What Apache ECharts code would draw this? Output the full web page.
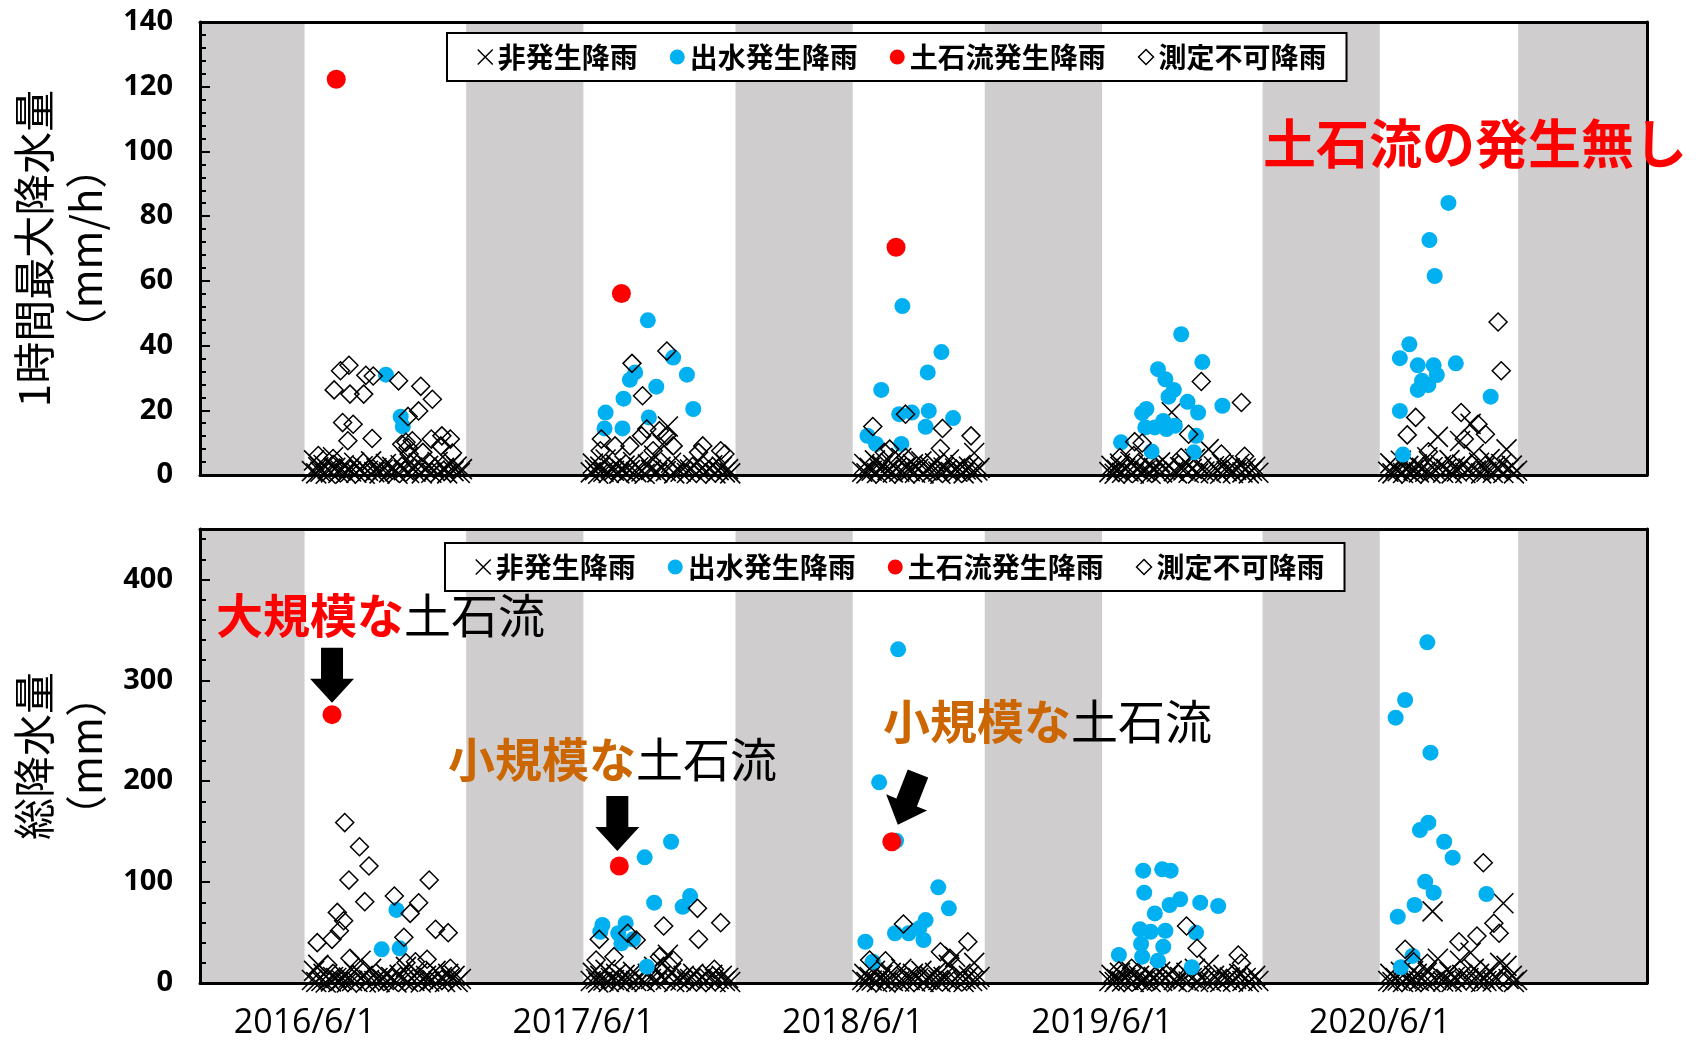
<!DOCTYPE html>
<html>
<head>
<meta charset="utf-8">
<script src="https://cdn.jsdelivr.net/npm/echarts@6/dist/echarts.min.js"></script>
<style>
  html, body { margin: 0; padding: 0; background: #fff; }
  #chart { width: 1696px; height: 1041px; }
</style>
</head>
<body>
<div id="chart"></div>
<script>
// ---- Observation seasons (each starts on June 1) ----
const seasonYears = [2016, 2017, 2018, 2019, 2020];
const seasonLengthDays = [153, 144, 125, 152, 131];   // June 1 -> end of observation
const leadDays = 99;        // off-season shown before the first season
const offSeasonDays = 111;  // compressed off-season between seasons
const trailDays = 122;      // off-season shown after the last season
const seasonLabels = ['2016/6/1', '2017/6/1', '2018/6/1', '2019/6/1', '2020/6/1'];

// ---- Legend / series names ----
const seriesNames = ['非発生降雨', '出水発生降雨', '土石流発生降雨', '測定不可降雨'];

// ---- 1時間最大降水量 (mm/h): [year, day since 6/1, value] ----
const hourlyNoEvent = [
  [2016,7,1.2],[2016,9,4.5],[2016,11,0.5],[2016,13,2.4],[2016,15,1.0],[2016,18,3.1],[2016,20,0.4],[2016,22,1.8],[2016,25,0.8],[2016,27,5.5],
  [2016,29,2.2],[2016,32,0.6],[2016,34,1.4],[2016,37,3.0],[2016,39,0.5],[2016,42,2.0],[2016,44,1.1],[2016,47,3.8],[2016,49,0.7],[2016,52,1.6],
  [2016,55,2.7],[2016,57,0.4],[2016,60,1.3],[2016,63,4.2],[2016,66,0.9],[2016,68,2.1],[2016,71,0.5],[2016,74,1.7],[2016,77,3.4],[2016,80,0.8],
  [2016,83,2.5],[2016,86,1.2],[2016,88,0.4],[2016,91,3.0],[2016,94,1.5],[2016,97,5.0],[2016,99,0.6],[2016,102,2.3],[2016,105,1.0],[2016,108,3.6],
  [2016,111,0.5],[2016,114,1.9],[2016,117,2.8],[2016,120,0.7],[2016,123,1.4],[2016,126,4.0],[2016,129,0.9],[2016,132,2.2],[2016,135,0.5],[2016,138,3.3],
  [2016,141,1.2],[2016,144,2.6],[2016,147,0.6],[2016,149,1.8],
  [2017,7,0.8],[2017,9,3.5],[2017,11,1.5],[2017,14,0.4],[2017,16,2.6],[2017,19,1.0],[2017,21,4.8],[2017,24,0.6],[2017,26,2.0],[2017,29,1.3],
  [2017,31,3.2],[2017,34,0.5],[2017,36,1.8],[2017,39,2.9],[2017,41,0.7],[2017,44,1.5],[2017,47,4.0],[2017,50,0.9],[2017,52,2.4],[2017,55,1.1],
  [2017,58,0.4],[2017,61,3.3],[2017,64,1.6],[2017,67,6.0],[2017,70,0.8],[2017,73,2.5],[2017,75,9.5],[2017,78,1.2],[2017,80,15.0],[2017,83,3.8],
  [2017,86,0.5],[2017,89,2.0],[2017,92,1.0],[2017,95,2.7],[2017,98,0.6],[2017,101,1.7],[2017,104,3.1],[2017,107,0.4],[2017,110,1.4],[2017,113,2.3],
  [2017,116,0.7],[2017,119,1.9],[2017,122,3.0],[2017,125,0.5],[2017,128,1.5],[2017,131,2.6],[2017,134,0.8],[2017,137,1.8],[2017,139,0.5],
  [2018,9,1.0],[2018,11,3.4],[2018,13,0.5],[2018,16,2.2],[2018,18,1.3],[2018,21,4.5],[2018,23,0.6],[2018,26,1.8],[2018,28,2.9],[2018,31,0.4],
  [2018,33,1.5],[2018,36,3.7],[2018,38,0.8],[2018,41,2.1],[2018,44,1.0],[2018,46,5.2],[2018,49,0.5],[2018,51,2.5],[2018,54,1.2],[2018,57,3.3],
  [2018,59,0.7],[2018,62,1.9],[2018,65,4.2],[2018,67,0.5],[2018,70,1.4],[2018,73,2.7],[2018,75,0.9],[2018,78,3.6],[2018,81,1.1],[2018,83,0.4],
  [2018,86,2.3],[2018,89,1.6],[2018,91,4.8],[2018,94,0.6],[2018,97,2.0],[2018,99,1.0],[2018,102,3.1],[2018,105,0.5],[2018,107,1.7],[2018,110,2.6],
  [2018,113,0.8],[2018,115,6.8],[2018,118,1.4],[2018,120,2.2],
  [2019,7,0.9],[2019,9,2.8],[2019,12,0.4],[2019,14,1.6],[2019,17,3.5],[2019,19,0.7],[2019,22,2.0],[2019,25,1.1],[2019,27,4.1],[2019,30,0.5],
  [2019,33,1.8],[2019,35,2.6],[2019,38,0.6],[2019,41,1.3],[2019,44,3.2],[2019,46,0.4],[2019,49,2.2],[2019,52,1.0],[2019,55,3.9],[2019,57,0.8],
  [2019,60,1.7],[2019,63,2.9],[2019,66,19.4],[2019,68,1.2],[2019,71,0.5],[2019,74,2.4],[2019,77,1.4],[2019,80,3.6],[2019,82,0.7],[2019,85,1.9],
  [2019,88,5.0],[2019,91,0.5],[2019,94,2.3],[2019,97,1.1],[2019,101,8.0],[2019,103,0.6],[2019,106,2.7],[2019,109,1.5],[2019,112,0.4],[2019,115,3.0],
  [2019,118,1.2],[2019,121,2.1],[2019,124,0.6],[2019,127,1.6],[2019,130,3.4],[2019,133,0.8],[2019,136,2.0],[2019,139,0.5],[2019,142,1.3],[2019,145,2.5],
  [2019,148,0.7],
  [2020,8,1.0],[2020,10,3.6],[2020,12,0.5],[2020,15,2.0],[2020,17,1.2],[2020,20,4.4],[2020,22,0.6],[2020,25,1.7],[2020,27,2.8],[2020,30,0.4],
  [2020,32,1.5],[2020,35,3.3],[2020,37,0.8],[2020,40,2.2],[2020,43,1.0],[2020,45,5.5],[2020,48,0.5],[2020,50,2.4],[2020,53,1.3],[2020,55,11.8],
  [2020,58,3.0],[2020,60,0.7],[2020,63,1.9],[2020,66,4.6],[2020,68,0.5],[2020,71,2.6],[2020,73,1.1],[2020,76,10.5],[2020,78,3.2],[2020,81,0.6],
  [2020,84,2.0],[2020,86,15.8],[2020,89,6.5],[2020,91,1.4],[2020,94,3.8],[2020,96,0.5],[2020,99,2.3],[2020,101,1.0],[2020,104,4.9],[2020,107,0.7],
  [2020,109,2.7],[2020,112,1.6],[2020,115,3.4],[2020,117,0.6],[2020,120,7.9],[2020,122,1.8],[2020,125,2.9],[2020,127,0.5],[2020,130,1.3]
];
const hourlyFlood = [
  [2016,77,31.0],[2016,91,18.0],[2016,93,15.0],
  [2017,61,47.8],[2017,85,36.3],[2017,98,31.0],[2017,49,31.7],[2017,44,29.4],[2017,69,27.3],[2017,38,23.6],[2017,21,19.3],[2017,104,20.4],
  [2017,62,17.8],[2017,20,14.4],[2017,37,14.4],
  [2018,47,52.2],[2018,84,38.0],[2018,71,31.7],[2018,27,26.3],[2018,44,18.8],[2018,56,19.3],[2018,72,19.8],[2018,95,17.6],[2018,69,14.9],
  [2018,14,12.1],[2018,22,9.6],[2018,46,9.6],
  [2019,75,43.5],[2019,95,34.9],[2019,53,32.7],[2019,60,29.6],[2019,68,26.3],[2019,63,24.2],[2019,81,22.6],[2019,91,19.3],[2019,114,21.4],
  [2019,42,20.4],[2019,38,19.1],[2019,41,14.7],[2019,50,14.7],[2019,58,16.7],[2019,61,14.2],[2019,69,15.2],[2019,89,12.1],[2019,18,10.1],
  [2019,47,7.3],[2019,87,7.0],
  [2020,65,84.1],[2020,47,72.6],[2020,52,61.5],[2020,28,40.4],[2020,19,36.1],[2020,36,33.9],[2020,51,33.9],[2020,72,34.5],[2020,54,30.9],
  [2020,40,29.1],[2020,46,27.8],[2020,36,26.3],[2020,105,24.2],[2020,19,19.8],[2020,22,6.3]
];
const hourlyDebrisFlow = [[2016,30,122.3],[2017,36,56.1],[2018,41,70.4]];
const hourlyUnmeasured = [
  [2016,34,32.2],[2016,42,33.9],[2016,58,30.8],[2016,65,30.6],[2016,89,29.1],[2016,28,26.3],[2016,43,25.0],[2016,56,25.0],[2016,110,27.4],
  [2016,121,23.4],[2016,108,19.8],[2016,98,18.1],[2016,36,16.2],[2016,46,15.7],[2016,41,10.6],[2016,64,11.3],[2016,96,10.1],[2016,102,10.6],
  [2016,120,11.1],[2016,130,12.1],[2016,138,11.1],[2016,140,6.8],[2016,129,9.0],[2016,13,6.0],[2016,27,5.1],[2016,112,7.0],[2016,99,6.5],
  [2016,92,9.5],[2016,98,8.5],
  [2017,79,38.3],[2017,46,34.5],[2017,56,24.5],[2017,17,11.1],[2017,60,14.2],[2017,72,13.7],[2017,79,12.1],[2017,85,9.0],[2017,30,9.0],
  [2017,44,9.0],[2017,55,12.1],[2017,16,7.5],[2017,113,9.0],[2017,130,7.5],[2017,134,6.5],[2017,109,7.0],[2017,66,7.5],
  [2018,50,18.8],[2018,19,15.0],[2018,85,14.4],[2018,112,12.1],[2018,35,8.0],[2018,83,8.2],[2018,50,5.4],[2018,30,7.0],
  [2019,94,28.9],[2019,132,22.4],[2019,82,12.6],[2019,31,10.3],[2019,38,9.9],[2019,17,5.4],[2019,30,6.0],[2019,75,5.4],[2019,135,5.8],[2019,113,6.5],
  [2020,112,47.3],[2020,115,32.2],[2020,34,17.8],[2020,77,19.3],[2020,93,15.7],[2020,100,12.6],[2020,26,12.4],[2020,46,7.2],[2020,80,11.1]
];

// ---- 総降水量 (mm): [year, day since 6/1, value] ----
const totalNoEvent = [
  [2016,7,3],[2016,9,12],[2016,11,1],[2016,13,18],[2016,16,2],[2016,18,9],[2016,20,0.5],[2016,23,4],[2016,25,1.5],[2016,27,6],
  [2016,30,5],[2016,32,1],[2016,35,3],[2016,37,8],[2016,40,0.5],[2016,42,5.5],[2016,45,2],[2016,47,11],[2016,50,1],[2016,53,22],
  [2016,55,7],[2016,58,0.5],[2016,61,3],[2016,63,14],[2016,66,2],[2016,69,5],[2016,71,1],[2016,74,4],[2016,77,9],[2016,79,1.5],
  [2016,82,6],[2016,85,2.5],[2016,87,0.5],[2016,90,8],[2016,93,3],[2016,96,16],[2016,98,1],[2016,101,5],[2016,104,2],[2016,107,10],
  [2016,110,0.5],[2016,112,4],[2016,115,7],[2016,118,1.5],[2016,121,3],[2016,124,12],[2016,127,2],[2016,130,6],[2016,133,1],[2016,136,9],
  [2016,139,3],[2016,142,7],[2016,145,1],[2016,148,4],
  [2017,7,2],[2017,9,10],[2017,12,4],[2017,14,0.5],[2017,16,7],[2017,19,2.5],[2017,21,13],[2017,24,1],[2017,26,5],[2017,29,3],
  [2017,31,9],[2017,34,1],[2017,36,4.5],[2017,39,8],[2017,41,1.5],[2017,44,4],[2017,47,11],[2017,50,2],[2017,52,6],[2017,55,3],
  [2017,58,1],[2017,61,9],[2017,64,4],[2017,67,16],[2017,70,2],[2017,73,7],[2017,75,20],[2017,78,3],[2017,80,28],[2017,83,10],
  [2017,86,1],[2017,89,5],[2017,92,2.5],[2017,95,7],[2017,98,1.5],[2017,101,4],[2017,104,9],[2017,107,1],[2017,110,3.5],[2017,113,6],
  [2017,116,1.5],[2017,119,5],[2017,122,8],[2017,125,1],[2017,128,4],[2017,131,7],[2017,134,2],[2017,137,5],[2017,139,1],
  [2018,9,3],[2018,11,9],[2018,13,1],[2018,16,6],[2018,18,2.5],[2018,21,12],[2018,23,1],[2018,26,4],[2018,28,8],[2018,31,0.5],
  [2018,33,3.5],[2018,36,10],[2018,38,2],[2018,41,5],[2018,44,1.5],[2018,46,14],[2018,49,1],[2018,51,6],[2018,54,3],[2018,57,9],
  [2018,59,1.5],[2018,62,5],[2018,65,12],[2018,67,1],[2018,70,3],[2018,73,7],[2018,75,2],[2018,78,10],[2018,81,3],[2018,83,1],
  [2018,86,6],[2018,89,4],[2018,91,18],[2018,94,1.5],[2018,97,26],[2018,99,2],[2018,102,9],[2018,105,1],[2018,107,4],[2018,110,7],
  [2018,113,2],[2018,115,20],[2018,118,3.5],[2018,120,6],
  [2019,7,2],[2019,9,8],[2019,12,1],[2019,14,4],[2019,17,10],[2019,19,1.5],[2019,22,5],[2019,25,3],[2019,27,12],[2019,30,1],
  [2019,33,4],[2019,35,7],[2019,38,1.5],[2019,41,3],[2019,44,9],[2019,46,1],[2019,49,6],[2019,52,2.5],[2019,55,11],[2019,57,2],
  [2019,60,4.5],[2019,63,8],[2019,66,12],[2019,68,3],[2019,71,1],[2019,74,6],[2019,77,3.5],[2019,80,10],[2019,82,1.5],[2019,85,5],
  [2019,88,14],[2019,91,1],[2019,94,6],[2019,97,2.5],[2019,101,18],[2019,103,1.5],[2019,106,7],[2019,109,4],[2019,112,1],[2019,115,8],
  [2019,118,3],[2019,121,5.5],[2019,124,1.5],[2019,127,4],[2019,130,9],[2019,133,2],[2019,136,5],[2019,139,1],[2019,142,3.5],[2019,145,7],
  [2019,148,2],
  [2020,8,2],[2020,10,9],[2020,12,1],[2020,15,5],[2020,17,2.5],[2020,20,11],[2020,22,1],[2020,25,4],[2020,27,7],[2020,30,1],
  [2020,32,3.5],[2020,35,9],[2020,37,2],[2020,40,5],[2020,43,1.5],[2020,45,13],[2020,48,1],[2020,50,71],[2020,53,3],[2020,55,24],
  [2020,58,7],[2020,60,1.5],[2020,63,4],[2020,66,11],[2020,68,1],[2020,71,6],[2020,73,2.5],[2020,76,22],[2020,78,8],[2020,81,1.5],
  [2020,84,5],[2020,86,30],[2020,89,14],[2020,91,3],[2020,94,9],[2020,96,1],[2020,99,5],[2020,101,2],[2020,104,12],[2020,107,1.5],
  [2020,109,6],[2020,112,3.5],[2020,114,20],[2020,117,79],[2020,120,17],[2020,122,4],[2020,125,7],[2020,127,1],[2020,130,3]
];
const totalFlood = [
  [2016,87,72.4],[2016,73,33.4],[2016,90,34.4],
  [2017,83,140.0],[2017,58,124.6],[2017,101,86.2],[2017,67,79.6],[2017,94,75.6],[2017,18,57.5],[2017,16,50.8],[2017,40,59.2],[2017,33,49.3],
  [2017,36,39.3],[2017,47,43.3],[2017,60,16.2],
  [2018,43,330.7],[2018,25,198.9],[2018,41,141.0],[2018,81,94.8],[2018,91,74.0],[2018,69,62.4],[2018,63,54.2],[2018,40,49.3],[2018,53,49.3],
  [2018,67,42.6],[2018,12,40.9],[2018,19,21.1],
  [2019,39,111.3],[2019,57,112.7],[2019,65,111.3],[2019,40,89.5],[2019,74,83.0],[2019,64,77.3],[2019,93,79.6],[2019,110,76.3],[2019,50,69.0],
  [2019,36,53.2],[2019,46,50.8],[2019,60,51.8],[2019,89,49.9],[2019,37,38.7],[2019,58,36.0],[2019,38,26.1],[2019,16,27.8],[2019,53,22.1],
  [2019,85,15.6],
  [2020,45,337.7],[2020,24,280.5],[2020,15,263.0],[2020,48,228.3],[2020,46,158.9],[2020,38,151.6],[2020,61,140.0],[2020,69,124.2],[2020,43,100.4],
  [2020,51,89.5],[2020,101,88.2],[2020,33,77.3],[2020,17,65.7],[2020,31,26.8],[2020,20,15.6]
];
const totalDebrisFlow = [[2016,26,266],[2017,34,116],[2018,37,140]];
const totalUnmeasured = [
  [2016,38,159],[2016,52,135],[2016,61,116],[2016,42,102],[2016,118,102],[2016,57,80.6],[2016,85,86.2],[2016,108,79.6],[2016,100,69],
  [2016,31,70],[2016,37,61.7],[2016,33,51.8],[2016,26,43.3],[2016,12,40],[2016,94,45.3],[2016,124,53.2],[2016,136,49.9],[2016,43,24.5],
  [2016,116,23.5],[2016,22,17.8],[2016,96,20.1],[2016,138,14.6],[2016,105,21.1],
  [2017,108,74],[2017,76,56.5],[2017,130,59.8],[2017,109,43.3],[2017,15,43.3],[2017,42,49.3],[2017,50,42.6],[2017,12,22.8],[2017,29,26.1],
  [2017,72,26.1],[2017,85,22.8],[2017,124,13.6],
  [2018,48,58.5],[2018,109,40.9],[2018,83,31],[2018,16,22.8],[2018,31,22.1],[2018,92,24.5],
  [2019,80,56.5],[2019,90,34.4],[2019,129,27.8],[2019,132,19.5],[2019,28,14.6],[2019,16,12.2],
  [2020,98,119.2],[2020,108,59.2],[2020,113,49.3],[2020,92,46.6],[2020,75,40.9],[2020,24,33.4],[2020,45,19.5],[2020,32,21.1]
];

// ---- Timeline: season start positions on the compressed day axis ----
const seasonStart = {};
let cursor = leadDays;
seasonYears.forEach((y, i) => {
  seasonStart[y] = cursor;
  cursor += seasonLengthDays[i] + (i < seasonYears.length - 1 ? offSeasonDays : 0);
});
const axisEnd = cursor + trailDays;
const seasonStartValues = seasonYears.map(y => seasonStart[y]);

// Off-season bands (grey)
const offSeasonBands = [];
let prevEnd = 0;
seasonYears.forEach((y, i) => {
  offSeasonBands.push([{ xAxis: prevEnd }, { xAxis: seasonStart[y] }]);
  prevEnd = seasonStart[y] + seasonLengthDays[i];
});
offSeasonBands.push([{ xAxis: prevEnd }, { xAxis: axisEnd }]);

const toPoint = r => [seasonStart[r[0]] + r[1], r[2]];

// ---- Styling ----
const JP = 'Noto Sans CJK JP';
const NUM = 'Open Sans';
const GREY = '#cfcdce';
const BLUE = '#00b0f0';
const RED = '#ff0000';
const ORANGE = '#cc6600';
const crossSymbol = 'path://M0,0L20,20M20,0L0,20';

const chart = echarts.init(document.getElementById('chart'), null, { renderer: 'canvas' });

function panelAxes(gridIndex, max, majorStep, minorStep, title, showXLabels) {
  const xMain = {
    type: 'value', gridIndex, min: 0, max: axisEnd, position: 'bottom', z: 10,
    splitLine: { show: false },
    axisLine: { show: true, onZero: false, lineStyle: { color: '#000', width: 3 } },
    axisTick: { show: false },
    axisLabel: showXLabels ? {
      show: true, customValues: seasonStartValues, margin: 23,
      fontFamily: NUM, fontSize: 34, color: '#000',
      formatter: v => seasonLabels[seasonStartValues.indexOf(v)] || ''
    } : { show: false }
  };
  const xTop = {
    type: 'value', gridIndex, min: 0, max: axisEnd, position: 'top', z: 10,
    splitLine: { show: false }, axisTick: { show: false }, axisLabel: { show: false },
    axisLine: { show: true, onZero: false, lineStyle: { color: '#000', width: 3 } }
  };
  const yMain = {
    type: 'value', gridIndex, min: 0, max, interval: majorStep, position: 'left', z: 10,
    name: title, nameLocation: 'middle', nameGap: 88, nameRotate: 90,
    nameTextStyle: { fontFamily: JP, fontSize: 42, color: '#000', lineHeight: 52 },
    splitLine: { show: false },
    axisLine: { show: true, onZero: false, lineStyle: { color: '#000', width: 3 } },
    axisTick: { show: true, inside: true, length: 10, lineStyle: { color: '#000', width: 2 } },
    axisLabel: { fontFamily: NUM, fontWeight: 'bold', fontSize: 29, color: '#000', margin: 27, showMaxLabel: max % majorStep === 0 }
  };
  const yMinor = {
    type: 'value', gridIndex, min: 0, max, interval: minorStep, position: 'left', z: 10,
    splitLine: { show: false }, axisLine: { show: false }, axisLabel: { show: false },
    axisTick: { show: true, inside: true, length: 6, lineStyle: { color: '#000', width: 2 } }
  };
  const yRight = {
    type: 'value', gridIndex, min: 0, max, position: 'right', z: 10,
    splitLine: { show: false }, axisTick: { show: false }, axisLabel: { show: false },
    axisLine: { show: true, onZero: false, lineStyle: { color: '#000', width: 3 } }
  };
  return { x: [xMain, xTop], y: [yMain, yMinor, yRight] };
}

const topAxes = panelAxes(0, 140, 20, 4, '1時間最大降水量\n（mm/h）', false);
const botAxes = panelAxes(1, 450, 100, 20, '総降水量\n（mm）', true);

function panelSeries(xIdx, yIdx, noEvent, flood, debris, unmeasured) {
  return [
    {
      type: 'scatter', name: 'offseason', xAxisIndex: xIdx, yAxisIndex: yIdx, data: [], z: 1, silent: true,
      markArea: { silent: true, itemStyle: { color: GREY }, data: offSeasonBands }
    },
    {
      type: 'scatter', name: seriesNames[0], xAxisIndex: xIdx, yAxisIndex: yIdx, z: 3,
      symbol: crossSymbol, symbolSize: 20,
      itemStyle: { color: 'transparent', borderColor: '#000', borderWidth: 1.6, opacity: 1 },
      data: noEvent.map(toPoint)
    },
    {
      type: 'scatter', name: seriesNames[1], xAxisIndex: xIdx, yAxisIndex: yIdx, z: 3,
      symbol: 'circle', symbolSize: 16, itemStyle: { color: BLUE, opacity: 1 },
      data: flood.map(toPoint)
    },
    {
      type: 'scatter', name: seriesNames[2], xAxisIndex: xIdx, yAxisIndex: yIdx, z: 3,
      symbol: 'circle', symbolSize: 19, itemStyle: { color: RED, opacity: 1 },
      data: debris.map(toPoint)
    },
    {
      type: 'scatter', name: seriesNames[3], xAxisIndex: xIdx, yAxisIndex: yIdx, z: 3,
      symbol: 'diamond', symbolSize: 18,
      itemStyle: { color: 'transparent', borderColor: '#000', borderWidth: 1.5, opacity: 1 },
      data: unmeasured.map(toPoint)
    }
  ];
}

function legendAt(left, top) {
  return {
    left, top, orient: 'horizontal', selectedMode: false,
    backgroundColor: '#fff', borderColor: '#000', borderWidth: 2,
    padding: [10, 20, 10, 30], itemGap: 32, itemWidth: 15, itemHeight: 15,
    textStyle: { fontFamily: JP, fontWeight: 'bold', fontSize: 28, color: '#000' },
    data: [
      { name: seriesNames[0], icon: crossSymbol, itemStyle: { color: 'transparent', borderColor: '#000', borderWidth: 1.5 } },
      { name: seriesNames[1], icon: 'circle', itemStyle: { color: BLUE } },
      { name: seriesNames[2], icon: 'circle', itemStyle: { color: RED } },
      { name: seriesNames[3], icon: 'diamond', itemStyle: { color: 'transparent', borderColor: '#000', borderWidth: 1.5 } }
    ],
    z: 20
  };
}

const option = {
  backgroundColor: '#fff',
  animation: false,
  grid: [
    { left: 195, right: 49, top: 22, height: 453 },
    { left: 195, right: 49, top: 529, height: 454 }
  ],
  xAxis: [...topAxes.x, ...botAxes.x],
  yAxis: [...topAxes.y, ...botAxes.y],
  legend: [legendAt(447, 33), legendAt(445, 543)],
  series: [
    ...panelSeries(0, 0, hourlyNoEvent, hourlyFlood, hourlyDebrisFlow, hourlyUnmeasured),
    ...panelSeries(2, 3, totalNoEvent, totalFlood, totalDebrisFlow, totalUnmeasured)
  ]
};
chart.setOption(option);

// ---- Annotations: labels and arrows pointing at debris-flow events ----
function arrowPoints(tipX, tipY, angleDeg) {
  const shaftHalf = 11, headHalf = 22, headLen = 24, totalLen = 55;
  const base = [
    [-shaftHalf, -totalLen], [shaftHalf, -totalLen], [shaftHalf, -headLen], [headHalf, -headLen],
    [0, 0], [-headHalf, -headLen], [-shaftHalf, -headLen]
  ];
  const a = angleDeg * Math.PI / 180, c = Math.cos(a), s = Math.sin(a);
  return base.map(([x, y]) => [tipX + x * c - y * s, tipY + x * s + y * c]);
}
const dotPx = totalDebrisFlow.map(r => chart.convertToPixel({ xAxisIndex: 2, yAxisIndex: 3 }, toPoint(r)));
const arrowSpecs = [
  { dx: 0, dy: -12, angle: 0 },
  { dx: -2, dy: -15, angle: 0 },
  { dx: 6, dy: -17, angle: 21.5 }
];
const arrows = dotPx.map((p, i) => ({
  type: 'polygon', z: 30,
  shape: { points: arrowPoints(p[0] + arrowSpecs[i].dx, p[1] + arrowSpecs[i].dy, arrowSpecs[i].angle) },
  style: { fill: '#000' }
}));

const richLabel = (left, y, head, headColor) => ({
  type: 'text', left, top: y, z: 30,
  style: {
    text: '{h|' + head + '}{t|土石流}',
    rich: {
      h: { fontFamily: JP, fontWeight: 'bold', fontSize: 47, fill: headColor },
      t: { fontFamily: JP, fontWeight: 'normal', fontSize: 47, fill: '#000' }
    }
  }
});

chart.setOption({
  graphic: [
    {
      type: 'text', left: 1263, top: 117, z: 30,
      style: { text: '土石流の発生無し', fontFamily: JP, fontWeight: 'bold', fontSize: 53, fill: RED }
    },
    richLabel(216, 592, '大規模な', RED),
    richLabel(448, 736, '小規模な', ORANGE),
    richLabel(883, 698, '小規模な', ORANGE),
    ...arrows
  ]
});
</script>
</body>
</html>
